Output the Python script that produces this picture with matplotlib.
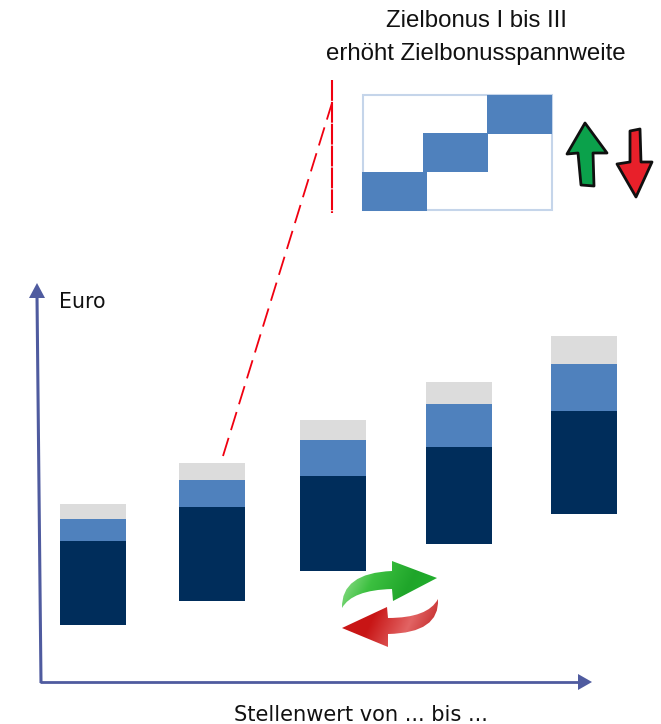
import numpy as np
import matplotlib
matplotlib.use("Agg")
import matplotlib.pyplot as plt
from matplotlib.patches import Polygon, Rectangle, PathPatch
from matplotlib.path import Path
from matplotlib.colors import LinearSegmentedColormap

# Pay bands: floor of each band and the height of its three segments
band_floor = [58, 82, 112, 139, 169]
base_segment = [84, 94, 95, 97, 103]
middle_segment = [22, 27, 36, 43, 47]
top_segment = [15, 17, 20, 22, 28]
band_centers = [93, 212, 333, 459, 584]
band_width = 66

title_lines = ["Zielbonus I bis III", "erhöht Zielbonusspannweite"]
y_label = "Euro"
x_label = "Stellenwert von ... bis ..."

NAVY = "#002D5B"
BLUE = "#4F81BD"
GREY = "#DCDCDC"
AXIS = "#4F5B9F"
W, H = 661, 724

fig = plt.figure(figsize=(W / 100, H / 100), dpi=100, facecolor="white")

# Band chart: one value unit equals one pixel, zero sits on the horizontal axis
ax = fig.add_axes([0, 0, 1, 1])
ax.set_xlim(0, W)
ax.set_ylim(-41, 683)
ax.axis("off")
floor = np.array(band_floor, float)
base = np.array(base_segment, float)
middle = np.array(middle_segment, float)
top = np.array(top_segment, float)
ax.bar(band_centers, base, band_width, bottom=floor, color=NAVY, lw=0)
ax.bar(band_centers, middle, band_width, bottom=floor + base, color=BLUE, lw=0)
ax.bar(band_centers, top, band_width, bottom=floor + base + middle, color=GREY, lw=0)

# Annotation layer in pixel coordinates, origin top left
deco = fig.add_axes([0, 0, 1, 1], facecolor="none")
deco.set_xlim(0, W)
deco.set_ylim(H, 0)
deco.axis("off")

# Axis arrows; the vertical one leans slightly to the left
deco.plot([41, 37], [683, 296], color=AXIS, lw=2.2, solid_capstyle="butt")
deco.plot([40, 580], [682, 682], color=AXIS, lw=2.0, solid_capstyle="butt")
deco.add_patch(Polygon([[37, 283], [29, 298], [45, 298]], fc=AXIS, ec="none"))
deco.add_patch(Polygon([[592, 682], [578, 674], [578, 690]], fc=AXIS, ec="none"))

deco.text(59, 302, y_label, family="DejaVu Sans", fontsize=14.8, va="center", color="#111111")
deco.text(361, 715, x_label, family="DejaVu Sans", fontsize=15.1, ha="center", va="center", color="#111111")

deco.text(476, 21, title_lines[0], family="Liberation Sans", fontsize=17.3, ha="center", va="center", color="#111111")
deco.text(476, 54, title_lines[1], family="Liberation Sans", fontsize=17.3, ha="center", va="center", color="#111111")

# Red leader lines
deco.plot([332, 332], [80, 213], color="#F00010", lw=1.5, dashes=(10, 0.5))
deco.plot([223, 332], [456, 103], color="#F00010", lw=1.3, dashes=(10.5, 4.5))

# Target bonus matrix
deco.add_patch(Rectangle((363, 95), 189, 115, fc="white", ec="#C5D5EA", lw=1.5))
for x0, y0, x1, y1 in [(362, 172, 427, 211), (423, 133, 488, 172), (487, 95, 552, 134)]:
    deco.add_patch(Rectangle((x0, y0), x1 - x0, y1 - y0, fc=BLUE, ec="none"))

# Hand-drawn up and down arrows
deco.add_patch(Polygon([[585, 123], [607, 153], [593, 153], [594, 186], [581, 185],
                        [578, 153], [567, 154]], fc="#0BA14B", ec="#101010", lw=2.0, joinstyle="round"))
deco.add_patch(Polygon([[630, 131], [640, 129], [641, 162], [652, 162], [636, 197],
                        [617, 164], [630, 162]], fc="#E8202A", ec="#101010", lw=2.0, joinstyle="round"))


def shaded_arrow(verts, codes, colors, extent):
    """Fill a curved outline with a gradient clipped to it."""
    cmap = LinearSegmentedColormap.from_list("shade", colors)
    n = 128
    grad = np.linspace(0, 1, n)
    grad = np.tile(grad, (n, 1)) * 0.8 + np.tile(grad[:, None], (1, n)) * 0.2
    im = deco.imshow(grad, extent=extent, cmap=cmap, aspect="auto", zorder=3, interpolation="bilinear")
    patch = PathPatch(Path(verts, codes), fc="none", ec="none", transform=deco.transData)
    deco.add_patch(patch)
    im.set_clip_path(patch)


M, L, C, Z = Path.MOVETO, Path.LINETO, Path.CURVE3, Path.CLOSEPOLY

# Exchange symbol: curved green arrow above, curved red arrow below
green_verts = [(342, 608), (341, 573), (392, 571), (392, 561), (437, 578), (393, 601),
               (392, 589), (352, 590), (342, 608), (342, 608)]
green_codes = [M, C, C, L, L, L, L, C, C, Z]
red_verts = [(342, 628), (387, 607), (388, 618), (428, 618), (438, 599),
             (440, 633), (388, 634), (388, 647), (342, 628)]
red_codes = [M, L, L, C, C, C, C, L, Z]
shaded_arrow(green_verts, green_codes, ["#A8E6A0", "#3CC040", "#1FA52A", "#23B52F"], (342, 438, 608, 560))
shaded_arrow(red_verts, red_codes, ["#CC1818", "#C81515", "#E26464", "#B81616"], (342, 438, 648, 598))

deco.set_xlim(0, W)
deco.set_ylim(H, 0)

fig.savefig("out.png", dpi=100)
